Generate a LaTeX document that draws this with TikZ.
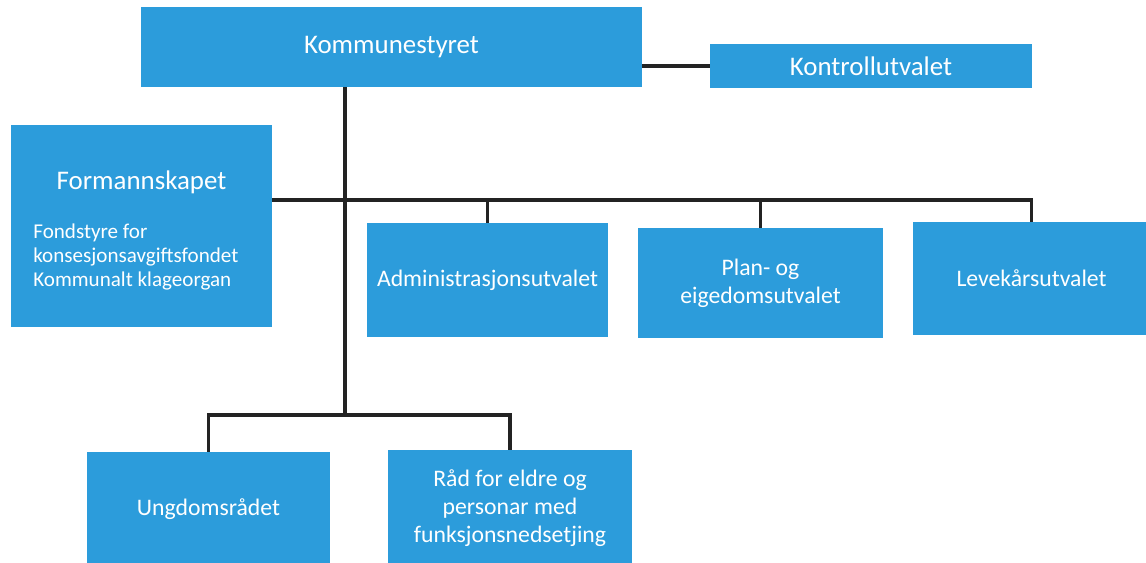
\documentclass[tikz,border=0pt]{standalone}
\usepackage{fontspec}
\setmainfont{Carlito}
\usetikzlibrary{positioning}

\definecolor{boxblue}{RGB}{44,156,219}
\definecolor{linegray}{RGB}{35,35,35}

\begin{document}
\begin{tikzpicture}[x=0.02cm, y=-0.02cm,
		box/.style = {rectangle, fill=boxblue, text=white, align=center, inner sep=0pt},
		big/.style = {font=\fontsize{15.3}{18}\selectfont},
		mid/.style = {font=\fontsize{13.5}{16}\selectfont},
		small/.style = {font=\fontsize{12}{13.6}\selectfont},
		link/.style = {draw=linegray, line width=2pt}]
			\clip (0,0) rectangle (1146,562);

			\node[box, big, minimum width=10.02cm, minimum height=1.6cm] (ks) at (391.5,47) {Kommunestyret};
			\node[box, big, minimum width=6.44cm, minimum height=0.88cm] (ku) at (871,66) {Kontrollutvalet};
			\node[box, minimum width=5.22cm, minimum height=4.04cm] (fm) at (141.5,226) {};
			\node[box, big] (fmtitle) at (141.5,182) {Formannskapet};
			\node[text=white, small, align=left, anchor=west, inner sep=0pt] (fmsub) at (33,257) {Fondstyre for\\konsesjonsavgiftsfondet\\Kommunalt klageorgan};

			\node[box, mid, minimum width=4.82cm, minimum height=2.28cm] (adm) at (487.5,280) {Administrasjonsutvalet};
			\node[box, mid, minimum width=4.9cm, minimum height=2.2cm] (plan) at (760.5,283) {Plan- og\\eigedomsutvalet};
			\node[box, mid, minimum width=4.74cm, minimum height=2.26cm] (lk) at (1031.5,278.5) {Levekårsutvalet};

			\node[box, mid, minimum width=4.86cm, minimum height=2.28cm] (ung) at (208.5,509) {Ungdomsrådet};
			\node[box, mid, minimum width=4.88cm, minimum height=2.32cm] (raad) at (510,508) {Råd for eldre og\\personar med\\funksjonsnedsetjing};

			\coordinate (bus) at (345,200);
			\coordinate (low) at (345,415);

			% trunk and side link
			\draw[link] (ks.east |- ku.west) -- (ku.west);
			\draw[link] (ks.south -| low) -- (low);

			% committee bus
			\draw[link] (fm.east |- bus) -- (bus -| lk.north) -- (lk.north);
			\draw[link] (bus -| adm.north) -- (adm.north);
			\draw[link] (bus -| plan.north) -- (plan.north);

			% lower bus
			\draw[link] (ung.north) -- (ung.north |- low) -- (raad.north |- low) -- (raad.north);
		\end{tikzpicture}
\end{document}
